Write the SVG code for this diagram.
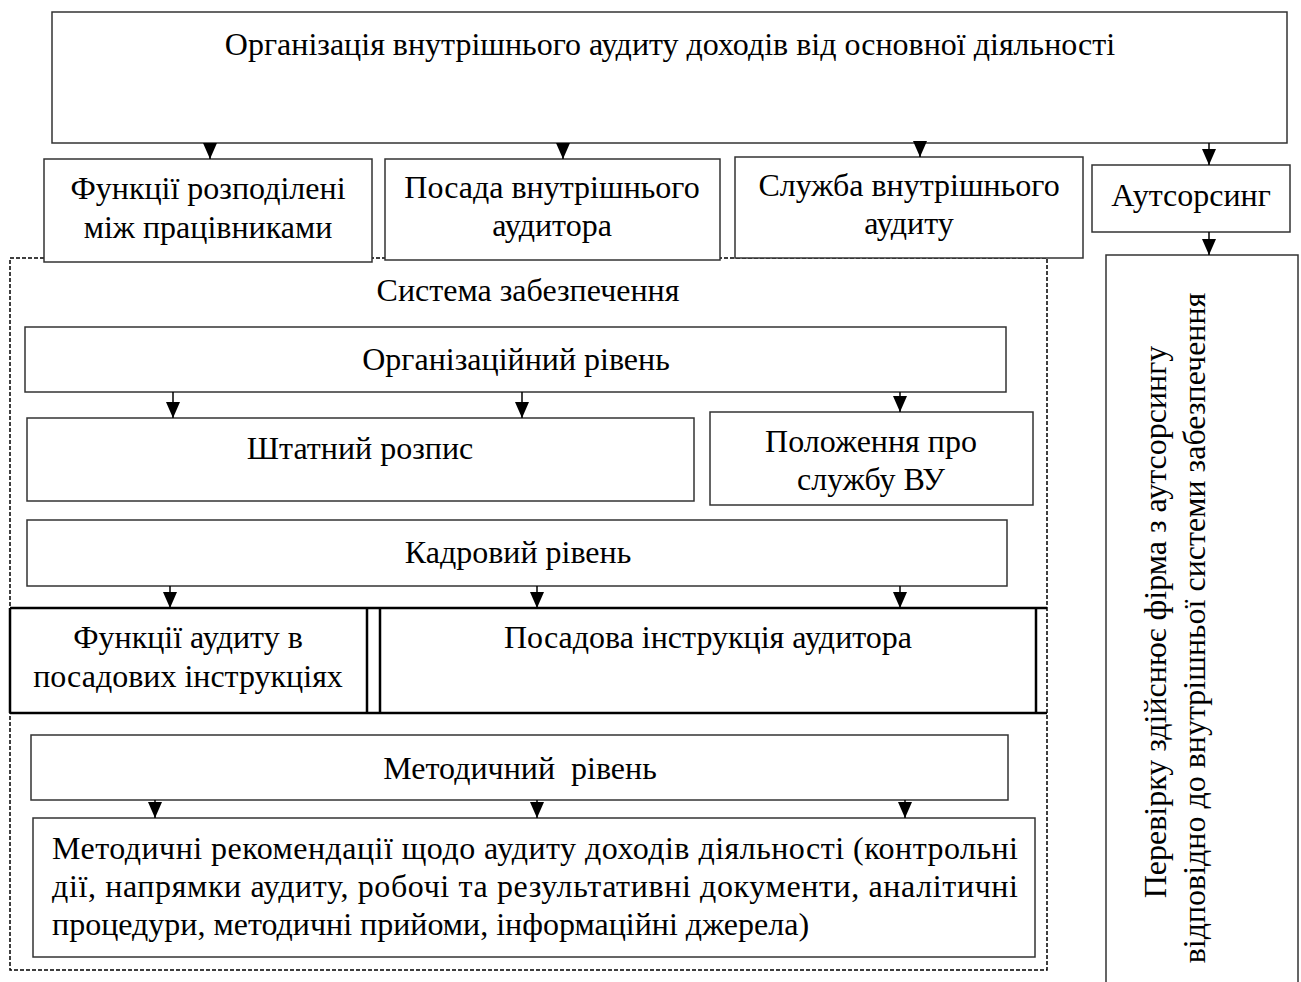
<svg xmlns="http://www.w3.org/2000/svg" width="1301" height="982" viewBox="0 0 1301 982">
<style>
.b{fill:#fff;stroke:#333;stroke-width:1.5}
.k{fill:none;stroke:#000;stroke-width:2.5}
.d{fill:none;stroke:#000;stroke-width:1.5;stroke-dasharray:4 2}
text{font-family:"Liberation Serif","Times New Roman",serif;font-size:32px;fill:#000}
.c{text-anchor:middle}
.a{stroke:#000;stroke-width:1.5;fill:none}
</style>
<defs>
<marker id="ah" viewBox="0 0 16 14" refX="16" refY="7" markerWidth="16" markerHeight="14" markerUnits="userSpaceOnUse" orient="auto">
<path d="M0,0 L16,7 L0,14 Z" fill="#000"/>
</marker>
</defs>
<rect width="1301" height="982" fill="#fff"/>

<g id="outer">
<rect class="d" x="10" y="258" width="1037" height="712"/>
<text class="c" x="528" y="301">Система забезпечення</text>
</g>

<g id="top">
<rect class="b" x="52" y="12" width="1235" height="131"/>
<text class="c" x="670" y="55">Організація внутрішнього аудиту доходів від основної діяльності</text>
</g>
<g id="n1">
<rect class="b" x="44" y="159" width="328" height="103"/>
<text class="c" x="208" y="199">Функції розподілені</text>
<text class="c" x="208" y="238">між працівниками</text>
</g>
<g id="n2">
<rect class="b" x="385" y="159" width="335" height="101"/>
<text class="c" x="552" y="198">Посада внутрішнього</text>
<text class="c" x="552" y="236">аудитора</text>
</g>
<g id="n3">
<rect class="b" x="735" y="157" width="348" height="101"/>
<text class="c" x="909" y="196">Служба внутрішнього</text>
<text class="c" x="909" y="234">аудиту</text>
</g>
<g id="n4">
<rect class="b" x="1092" y="165" width="198" height="67"/>
<text class="c" x="1191" y="206">Аутсорсинг</text>
</g>
<g id="n5">
<rect class="b" x="1106" y="255" width="192" height="740"/>
<text class="c" transform="translate(1166,622) rotate(-90)">Перевірку здійснює фірма з аутсорсингу</text>
<text class="c" transform="translate(1205,628) rotate(-90)">відповідно до внутрішньої системи забезпечення</text>
</g>

<g id="org">
<rect class="b" x="25" y="327" width="981" height="65"/>
<text class="c" x="516" y="370">Організаційний рівень</text>
</g>
<g id="shtat">
<rect class="b" x="27" y="418" width="667" height="83"/>
<text class="c" x="360" y="459">Штатний розпис</text>
</g>
<g id="polozh">
<rect class="b" x="710" y="412" width="323" height="93"/>
<text class="c" x="871" y="452">Положення про</text>
<text class="c" x="871" y="490">службу ВУ</text>
</g>
<g id="kadr">
<rect class="b" x="27" y="520" width="980" height="66"/>
<text class="c" x="518" y="563">Кадровий рівень</text>
</g>
<g id="funk">
<path class="k" d="M10,608 H1047 M10,713 H1047 M10,608 V713 M367,608 V713"/>
<text class="c" x="188" y="648">Функції аудиту в</text>
<text class="c" x="188" y="687">посадових інструкціях</text>
</g>
<g id="posad">
<path class="k" d="M380,608 V713 M1036,608 V713"/>
<text class="c" x="708" y="648">Посадова інструкція аудитора</text>
</g>
<g id="metod">
<rect class="b" x="31" y="735" width="977" height="65"/>
<text class="c" x="520" y="779" xml:space="preserve">Методичний  рівень</text>
</g>
<g id="rek">
<rect class="b" x="33" y="818" width="1002" height="139"/>
<text x="52" y="859" textLength="966" lengthAdjust="spacing">Методичні рекомендації щодо аудиту доходів діяльності (контрольні</text>
<text x="52" y="897" textLength="966" lengthAdjust="spacing">дії, напрямки аудиту, робочі та результативні документи, аналітичні</text>
<text x="52" y="935">процедури, методичні прийоми, інформаційні джерела)</text>
</g>

<g id="connectors">
<path class="a" marker-end="url(#ah)" d="M210,143 V159"/>
<path class="a" marker-end="url(#ah)" d="M563,143 V159"/>
<path class="a" marker-end="url(#ah)" d="M920,143 V157"/>
<path class="a" marker-end="url(#ah)" d="M1209,143 V165"/>
<path class="a" marker-end="url(#ah)" d="M1209,232 V255"/>
<path class="a" marker-end="url(#ah)" d="M173,392 V418"/>
<path class="a" marker-end="url(#ah)" d="M522,392 V418"/>
<path class="a" marker-end="url(#ah)" d="M900,392 V412"/>
<path class="a" marker-end="url(#ah)" d="M170,586 V608"/>
<path class="a" marker-end="url(#ah)" d="M537,586 V608"/>
<path class="a" marker-end="url(#ah)" d="M900,586 V608"/>
<path class="a" marker-end="url(#ah)" d="M155,800 V818"/>
<path class="a" marker-end="url(#ah)" d="M537,800 V818"/>
<path class="a" marker-end="url(#ah)" d="M905,800 V818"/>
</g>
</svg>
